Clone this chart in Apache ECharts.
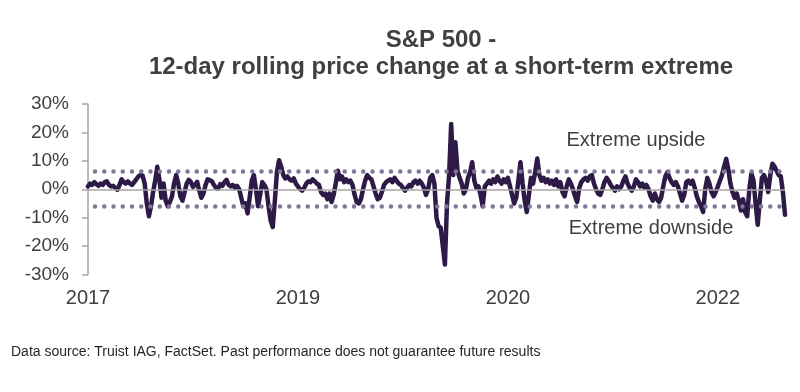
<!DOCTYPE html>
<html>
<head>
<meta charset="utf-8">
<script src="https://cdn.jsdelivr.net/npm/echarts@6/dist/echarts.min.js"></script>
<style>
html,body{margin:0;padding:0;background:#fff;}
#chart{width:800px;height:392px;}
</style>
</head>
<body>
<div id="chart"></div>
<script>
// 12-day rolling price change (%), 333 evenly spaced points
const values = [
  1.0, 2.0, 1.5, 2.5, 1.8, 1.2, 2.0, 1.5, 2.5, 2.8,
  1.5, 1.0, 1.2, 0.5, -0.2, 1.5, 3.5, 2.5, 2.0, 2.8,
  2.0, 1.5, 2.5, 3.5, 4.5, 5.0, 4.8, 2.0, -5.0, -9.5,
  -6.0, -1.0, 3.0, 7.9, 3.5, -3.0, 2.0, -4.0, -6.0, -4.5,
  -2.5, 2.0, 5.0, 2.0, -2.5, -4.0, -1.0, 2.0, 3.3, 2.5,
  0.8, 1.5, 2.6, -0.5, -3.0, -1.5, 1.5, 3.5, 3.2, 2.8,
  1.5, 0.5, 0.2, 1.8, 1.2, 2.5, 3.3, 1.5, 1.0, 1.5,
  0.5, 1.2, 0.0, -3.0, -6.0, -5.0, -8.5, -3.0, 3.0, 5.0,
  0.0, -6.0, -2.0, 2.5, 1.5, 0.0, -6.0, -11.0, -13.3, -4.0,
  6.0, 10.2, 8.0, 5.0, 3.8, 4.5, 3.5, 3.0, 3.8, 2.0,
  1.0, 0.0, -0.5, 0.5, 2.0, 2.8, 2.5, 3.5, 2.8, 2.0,
  1.5, -1.0, -2.0, -1.5, -3.5, -1.5, -4.5, -2.0, 2.0, 6.5,
  3.5, 4.5, 2.5, 3.5, 2.5, 3.0, 1.5, -2.0, -4.5, -5.0,
  -3.5, 0.0, 3.0, 5.0, 4.0, 3.5, 1.0, -1.5, -3.5, -3.0,
  -1.0, 1.5, 2.5, 3.0, 3.5, 2.5, 4.0, 3.0, 2.0, 1.5,
  0.5, -0.5, 0.5, 1.5, 1.0, 2.5, 3.0, 2.0, 3.0, 2.0,
  0.5, -2.0, 0.0, 4.0, 5.0, 2.0, -10.0, -13.0, -13.5, -20.0,
  -26.5, -5.0, 5.0, 23.0, 5.0, 16.5, 6.5, 4.0, 2.0, -1.5,
  0.0, 4.0, 6.0, 9.5, 3.0, 0.5, 1.0, -2.0, -6.0, 1.0,
  2.0, 3.0, 2.0, 3.5, 2.5, 4.5, 3.0, 2.0, 3.5, 2.5,
  4.0, 1.0, -2.0, -5.0, -3.0, 3.0, 9.5, 2.0, -4.0, -8.0,
  -2.0, 4.0, 2.0, 6.0, 10.8, 5.0, 3.0, 4.0, 2.5, 3.5,
  2.0, 3.0, 1.5, 3.5, 1.0, 2.5, -1.0, -2.5, 1.0, 3.5,
  2.0, 0.0, -2.5, -4.5, 0.5, 2.5, 3.5, 4.0, 3.0, 4.5,
  5.0, 2.0, 0.0, -1.5, -2.0, 0.0, 2.5, 4.0, 3.0, 1.5,
  0.5, -0.5, 1.0, 0.0, 1.0, 3.0, 4.5, 2.0, 0.5, -0.5,
  1.0, 3.5, 2.5, 1.0, 2.0, 0.5, 1.5, 0.0, -2.5, -4.0,
  -1.5, -3.5, -4.5, -3.0, 1.0, 4.5, 6.0, 4.0, 2.5, 1.5,
  2.5, 1.0, -1.5, -4.0, -2.0, 2.5, 3.0, 2.0, 3.0, 0.5,
  -2.5, -4.5, -6.0, -8.0, 0.0, 4.0, 2.0, -1.0, -2.5, -1.0,
  1.0, 3.0, 5.0, 8.0, 10.7, 7.0, 2.0, -1.0, -3.0, -1.5,
  -4.0, -7.5, -3.5, -8.0, -9.5, 0.0, 5.5, 3.0, -5.0, -12.5,
  -4.0, 4.0, 5.0, 3.0, -1.0, 5.0, 9.0, 8.0, 6.5, 5.0,
  4.5, -1.0, -9.0
];
// category index for each point
const categories = values.map((v, i) => String(i));
// x tick labels, shown every 100 points
const tickLabels = ['2017', '2019', '2020', '2022'];
const tickEvery = 100;
// threshold levels (%)
const upperLevel = 6.5;
const lowerLevel = -6.1;

const FONT = "'Liberation Sans', Arial, sans-serif";
const TXT = '#404040';

const chart = echarts.init(document.getElementById('chart'), null, {renderer: 'canvas'});
chart.setOption({
  animation: false,
  backgroundColor: '#ffffff',
  grid: {left: 88, right: 15, top: 104, bottom: 117.5, containLabel: false},
  xAxis: {
    type: 'category',
    data: categories,
    boundaryGap: false,
    axisLine: {show: false},
    axisTick: {show: false},
    splitLine: {show: false},
    axisLabel: {
      interval: tickEvery - 1,
      margin: 14,
      fontSize: 20,
      fontFamily: FONT,
      color: TXT,
      formatter: function (val, idx) {
        const k = Math.round(idx / tickEvery);
        return tickLabels[k] || '';
      }
    }
  },
  yAxis: {
    type: 'value',
    min: -30, max: 30, interval: 10,
    axisLine: {show: true, lineStyle: {color: '#a6a6a6', width: 1.5}},
    axisTick: {show: true, length: 6, lineStyle: {color: '#a6a6a6', width: 1.5}},
    splitLine: {show: false},
    axisLabel: {margin: 19, fontSize: 19, fontFamily: FONT, color: TXT, formatter: '{value}%'}
  },
  series: [
    {
      type: 'line', data: [], z: 1, silent: true,
      markLine: {
        silent: true, symbol: ['none', 'none'], label: {show: false},
        lineStyle: {color: '#a6a6a6', width: 1.5, type: 'solid'},
        data: [{yAxis: 0}]
      }
    },
    {
      type: 'line', data: values, z: 2,
      showSymbol: false, symbol: 'none',
      lineStyle: {color: '#2e1a47', width: 4.5, join: 'round', cap: 'round'}
    },
    {
      type: 'line', data: [], z: 3, silent: true,
      markLine: {
        silent: true, symbol: ['none', 'none'], label: {show: false},
        lineStyle: {color: '#7f7797', width: 4.5, type: [0, 9.25], cap: 'round', dashOffset: 2.25},
        data: [{yAxis: upperLevel}, {yAxis: lowerLevel}]
      }
    }
  ],
  graphic: [
    {type: 'text', x: 441, y: 40, style: {text: 'S&P 500 -', font: 'bold 24px ' + FONT, fill: TXT, textAlign: 'center', textVerticalAlign: 'middle', align: 'center', verticalAlign: 'middle'}},
    {type: 'text', x: 441, y: 67, style: {text: '12-day rolling price change at a short-term extreme', font: 'bold 24px ' + FONT, fill: TXT, textAlign: 'center', textVerticalAlign: 'middle', align: 'center', verticalAlign: 'middle'}},
    {type: 'text', x: 636, y: 140, style: {text: 'Extreme upside', font: '20px ' + FONT, fill: TXT, textAlign: 'center', textVerticalAlign: 'middle', align: 'center', verticalAlign: 'middle'}},
    {type: 'text', x: 651, y: 228, style: {text: 'Extreme downside', font: '20px ' + FONT, fill: TXT, textAlign: 'center', textVerticalAlign: 'middle', align: 'center', verticalAlign: 'middle'}},
    {type: 'text', x: 11, y: 352, style: {text: 'Data source: Truist IAG, FactSet. Past performance does not guarantee future results', font: '14px ' + FONT, fill: '#262626', textAlign: 'left', textVerticalAlign: 'middle', align: 'left', verticalAlign: 'middle'}}
  ]
});
</script>
</body>
</html>
